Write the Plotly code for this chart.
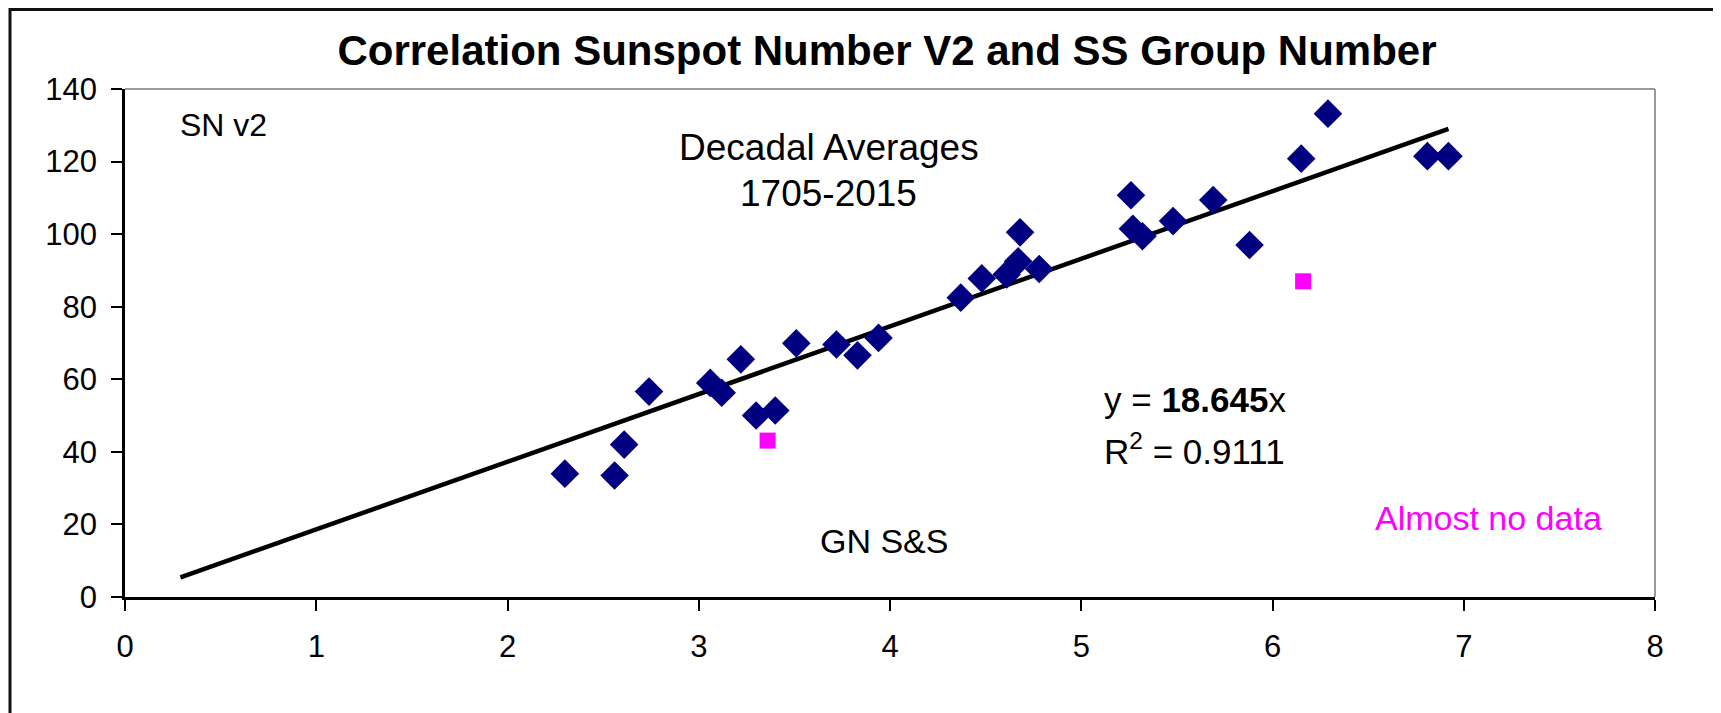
import plotly.graph_objects as go

# the page body has an 8px margin, so the figure sits at (8, 8) in the window
OFF = 8
W, H = 1721 - OFF, 713 - OFF
ML, MR, MT, MB = 125 - OFF, 66, 89 - OFF, 116
FONT = "Arial, Liberation Sans, sans-serif"

# decadal averages 1705-2015: group number (S&S) vs sunspot number v2
gn_ss = [2.30, 2.56, 2.61, 2.74, 3.06, 3.12, 3.22, 3.30, 3.40, 3.51, 3.72, 3.83, 3.94,
         4.37, 4.48, 4.61, 4.67, 4.68, 4.78, 5.26, 5.27, 5.32, 5.48, 5.69, 5.88,
         6.15, 6.29, 6.81, 6.92]
sn_v2 = [34.0, 33.5, 42.0, 56.6, 59.0, 56.3, 65.5, 50.0, 51.4, 69.9, 69.6, 66.6, 71.4,
         82.5, 87.8, 88.9, 92.5, 100.5, 90.4, 110.7, 101.5, 99.4, 103.6, 109.4, 97.0,
         120.8, 133.2, 121.5, 121.5]

# decades with almost no data
gn_sparse = [3.36, 6.16]
sn_sparse = [43.1, 87.0]

# linear trend through origin, y = 18.645x
trend_x = [0.29, 6.92]
trend_y = [5.4, 129.0]

x_ticks = [0, 1, 2, 3, 4, 5, 6, 7, 8]
y_ticks = [0, 20, 40, 60, 80, 100, 120, 140]


def px(x, y):
    # window pixel position -> paper coords of the plot area
    pw = W - ML - MR
    ph = H - MT - MB
    return (x - OFF - ML) / pw, (H - MB - (y - OFF)) / ph


fig = go.Figure()
fig.add_trace(go.Scatter(
    x=trend_x, y=trend_y, mode="lines",
    line=dict(color="black", width=4.5), hoverinfo="skip",
))
fig.add_trace(go.Scatter(
    x=gn_ss, y=sn_v2, mode="markers",
    marker=dict(symbol="diamond", size=22, color="#000080", line=dict(width=0)),
))
fig.add_trace(go.Scatter(
    x=gn_sparse, y=sn_sparse, mode="markers",
    marker=dict(symbol="square", size=16, color="#FF00FF", line=dict(width=0)),
))

axis_common = dict(
    showgrid=False, zeroline=False, showline=True, linecolor="black", linewidth=2.5,
    ticks="outside", ticklen=11, tickwidth=2, tickcolor="black",
    tickfont=dict(family=FONT, size=31, color="black"),
)
fig.update_xaxes(range=[0, 8], tickvals=x_ticks, ticklabelstandoff=9, **axis_common)
fig.update_yaxes(range=[0, 140], tickvals=y_ticks, ticklabelstandoff=8, **axis_common)

txt = dict(family=FONT, size=35, color="black")
annotations = [
    dict(x=0.277, y=130.2, text="SN v2", xanchor="left", font=dict(family=FONT, size=32, color="black")),
    dict(x=3.68, y=123.9, text="Decadal Averages", xanchor="center", font=dict(family=FONT, size=37, color="black")),
    dict(x=3.68, y=111.1, text="1705-2015", xanchor="center", font=dict(family=FONT, size=37, color="black")),
    dict(x=5.11, y=54.3, text="y = <b>18.645</b>x", xanchor="left", font=txt),
    dict(x=5.11, y=40.8, text="R<sup>2</sup> = 0.9111", xanchor="left", font=txt),
    dict(x=3.97, y=15.3, text="GN S&S", xanchor="center", font=dict(family=FONT, size=34, color="black")),
    dict(x=7.13, y=21.9, text="Almost no data", xanchor="center", font=dict(family=FONT, size=34, color="#FF00FF")),
]
for a in annotations:
    a.update(xref="x", yref="y", yanchor="middle", showarrow=False)

# gray top/right plot border and the outer black frame
x0, y0 = px(10, 9.5)
x1, y1 = px(1716, 740)
shapes = [
    dict(type="line", xref="paper", yref="paper", x0=0, y0=1, x1=1, y1=1,
         line=dict(color="#9a9a9a", width=2)),
    dict(type="line", xref="paper", yref="paper", x0=1, y0=0, x1=1, y1=1,
         line=dict(color="#9a9a9a", width=2)),
    dict(type="rect", xref="paper", yref="paper", x0=x0, y0=y1, x1=x1, y1=y0,
         line=dict(color="#111111", width=3)),
]

fig.update_layout(
    width=W, height=H,
    margin=dict(l=ML, r=MR, t=MT, b=MB),
    paper_bgcolor="white", plot_bgcolor="white",
    showlegend=False,
    title=dict(
        text="<b>Correlation Sunspot Number V2 and SS Group Number</b>",
        x=(887 - OFF) / W, xanchor="center", y=1 - (50 - OFF) / H, yanchor="middle",
        font=dict(family=FONT, size=42, color="black"),
    ),
    annotations=annotations,
    shapes=shapes,
)

fig.write_html("out.html")
